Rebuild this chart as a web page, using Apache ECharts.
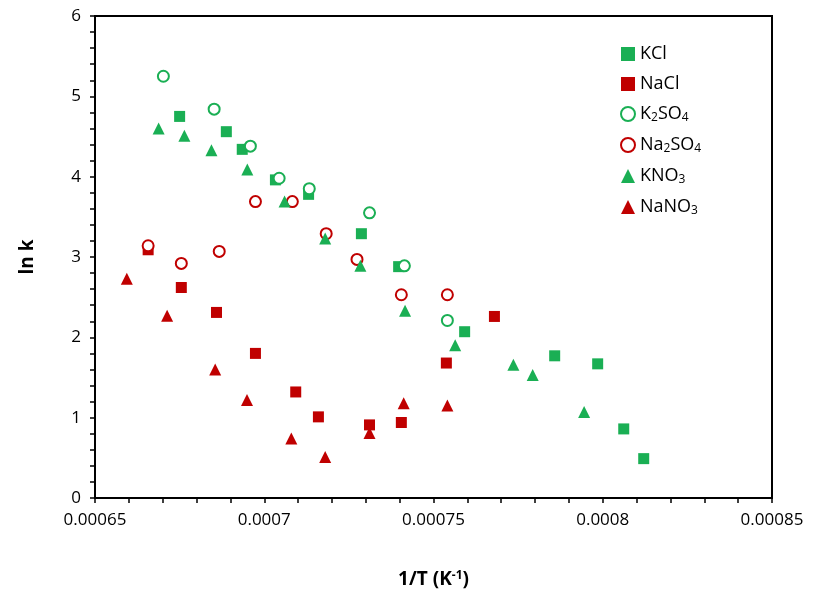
<!DOCTYPE html><html><head><meta charset="utf-8"><script src="https://cdn.jsdelivr.net/npm/echarts@6/dist/echarts.min.js"></script></head><body style="margin:0"><div id="c" style="width:815px;height:590px"></div><script>
const KCl=[[0.0006750,4.75],[0.0006888,4.56],[0.0006935,4.34],[0.0007033,3.96],[0.0007131,3.78],[0.0007287,3.29],[0.0007397,2.88],[0.0007592,2.07],[0.0007858,1.77],[0.0007985,1.67],[0.0008062,0.86],[0.0008121,0.49]];
const NaCl=[[0.0006657,3.09],[0.0006755,2.62],[0.0006859,2.31],[0.0006974,1.8],[0.0007093,1.32],[0.0007160,1.01],[0.0007311,0.91],[0.0007405,0.94],[0.0007538,1.68],[0.0007680,2.26]];
const K2SO4=[[0.0006702,5.25],[0.0006852,4.84],[0.0006959,4.38],[0.0007044,3.98],[0.0007133,3.85],[0.0007311,3.55],[0.0007414,2.89],[0.0007541,2.21]];
const Na2SO4=[[0.0006657,3.14],[0.0006755,2.92],[0.0006867,3.07],[0.0006974,3.69],[0.0007083,3.69],[0.0007183,3.29],[0.0007274,2.97],[0.0007405,2.53],[0.0007541,2.53]];
const KNO3=[[0.0006688,4.6],[0.0006764,4.51],[0.0006844,4.33],[0.0006950,4.09],[0.0007060,3.69],[0.0007180,3.23],[0.0007284,2.89],[0.0007416,2.33],[0.0007564,1.9],[0.0007736,1.66],[0.0007793,1.53],[0.0007945,1.07]];
const NaNO3=[[0.0006594,2.73],[0.0006713,2.27],[0.0006855,1.6],[0.0006949,1.22],[0.0007080,0.74],[0.0007180,0.51],[0.0007311,0.81],[0.0007412,1.18],[0.0007541,1.15]];
const G='#1aaf54',R='#c00000';
const names=['KCl','NaCl','K2SO4','Na2SO4','KNO3','NaNO3'];
const labels={KCl:'KCl',NaCl:'NaCl',K2SO4:'K{s|2}SO{s|4}',Na2SO4:'Na{s|2}SO{s|4}',KNO3:'KNO{s|3}',NaNO3:'NaNO{s|3}'};
function s(name,data,sym,col,open,size){return {name,type:'scatter',data,symbol:sym,symbolSize:size,itemStyle:open?{color:'#fff',borderColor:col,borderWidth:2,opacity:1}:{color:col,opacity:1}};}
const ch=echarts.init(document.getElementById('c'));
const tk={show:true,inside:false,length:5,lineStyle:{color:'#000',width:1.5}};
ch.setOption({animation:false,textStyle:{fontFamily:'Open Sans'},
grid:{left:95,right:43,top:16,bottom:92,outerBoundsMode:'none',containLabel:false,show:true,borderColor:'#000',borderWidth:2,backgroundColor:'transparent'},
legend:{orient:'vertical',left:615,top:40,itemGap:12,itemWidth:14,itemHeight:14,data:names,formatter:n=>labels[n],
textStyle:{fontSize:18,color:'#000',rich:{s:{fontSize:12,verticalAlign:'bottom',padding:[8,0,0,0]}}}},
xAxis:{type:'value',min:0.00065,max:0.00085,interval:0.00005,name:'1/T (K{s|-1})',nameLocation:'middle',nameGap:72,
nameTextStyle:{fontSize:19,fontWeight:'bold',color:'#000',rich:{s:{fontSize:12,fontWeight:'bold',verticalAlign:'top',padding:[0,0,8,0]}}},
axisLine:{lineStyle:{color:'#000',width:2}},axisTick:tk,splitLine:{show:false},
minorTick:{show:true,splitNumber:5,length:5,lineStyle:{color:'#000',width:1.5}},
axisLabel:{fontSize:17,color:'#000',margin:14,formatter:v=>String(+v.toFixed(5))}},
yAxis:{type:'value',min:0,max:6,interval:1,name:'ln k',nameLocation:'middle',nameGap:58,nameTextStyle:{fontSize:19,fontWeight:'bold',color:'#000'},
axisLine:{show:true,lineStyle:{color:'#000',width:2}},axisTick:tk,splitLine:{show:false},
minorTick:{show:true,splitNumber:5,length:5,lineStyle:{color:'#000',width:1.5}},
axisLabel:{fontSize:17,color:'#000',margin:14}},
series:[s('KCl',KCl,'rect',G,false,11),s('NaCl',NaCl,'rect',R,false,11),s('K2SO4',K2SO4,'circle',G,true,11),s('Na2SO4',Na2SO4,'circle',R,true,11),s('KNO3',KNO3,'triangle',G,false,12),s('NaNO3',NaNO3,'triangle',R,false,12)]});
</script></body></html>
